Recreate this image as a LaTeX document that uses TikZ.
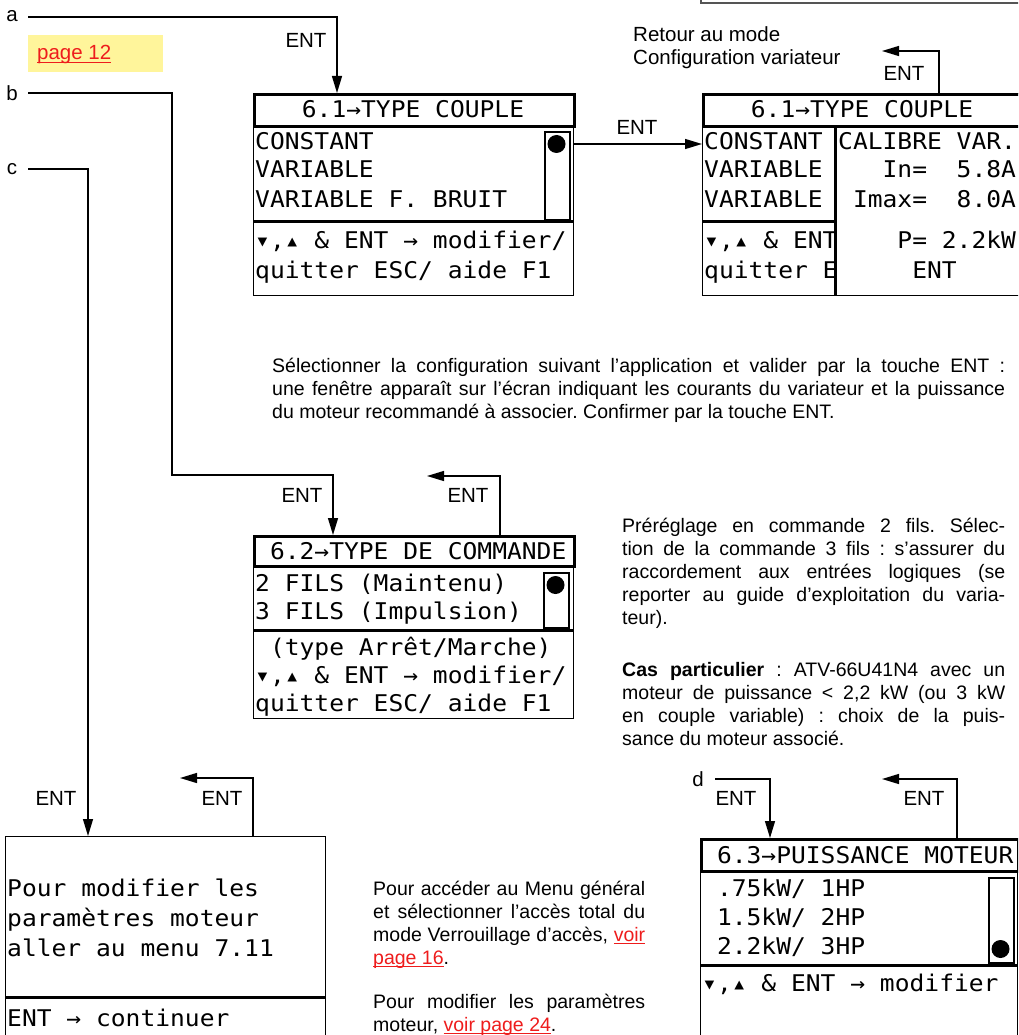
\documentclass[tikz,border=0pt]{standalone}
\usepackage{fontspec}
\usepackage{xcolor}
\setmainfont{Liberation Sans}
\newfontfamily\lcdfont[FakeStretch=1.07]{DejaVu Sans Mono}
\usetikzlibrary{arrows.meta}
\definecolor{notebg}{HTML}{FFF59B}
\definecolor{linkred}{HTML}{EE1C1C}
\definecolor{framegray}{HTML}{555555}
\newcommand{\lnk}[1]{\textcolor{linkred}{\setbox0\hbox{#1}\rlap{\rule[-2.6pt]{\wd0}{0.8pt}}\box0}}
\newcommand{\navkeys}{▾,▴}
\frenchspacing

\begin{document}
\begin{tikzpicture}[x=1pt, y=-1pt, >={Triangle[length=17pt, width=10pt]}]
        % 样式定义
        \tikzstyle{lcdbox} = [draw, rectangle, line width=1.4pt, inner sep=0pt, anchor=north west, minimum width=320pt]
        \tikzstyle{titlebar} = [draw, rectangle, line width=3pt, inner sep=0pt, anchor=north west, minimum width=320pt, minimum height=32pt]
        \tikzstyle{divider} = [line width=3pt]
        \tikzstyle{lcd} = [font=\lcdfont\fontsize{23}{28}\selectfont, inner sep=0pt, anchor=base west]
        \tikzstyle{scroll} = [draw, rectangle, line width=2.2pt, inner sep=0pt, anchor=north west, minimum width=25pt]
        \tikzstyle{bullet} = [circle, fill, inner sep=0pt, minimum size=18pt]
        \tikzstyle{entlbl} = [font=\fontsize{20.5}{23}\selectfont, inner sep=0pt]
        \tikzstyle{para} = [font=\fontsize{19.5}{23}\selectfont, inner sep=0pt, anchor=base west, align=justify]
        \tikzstyle{flow} = [->, line width=1.3pt]

        \clip (0,0) rectangle (1018,1035);
        \draw [framegray, line width=1.2pt] (701,-10) rectangle (1030,3);

        % 6.1 TYPE COUPLE
        \node [lcdbox, minimum height=202pt] (TC1) at (253,93) {};
        \node [titlebar] (TC1t) at (253,93) {};
        \node [lcd, anchor=base] (TC1h) at (413,118) {6.1→TYPE COUPLE};
        \node [lcd] (TC1a) at (255,150) {CONSTANT};
        \node [lcd] (TC1b) at (255,178) {VARIABLE};
        \node [lcd] (TC1c) at (255,207) {VARIABLE F. BRUIT};
        \draw [divider] (TC1.west |- 0,221) -- (TC1.east |- 0,221);
        \node [lcd] (TC1d) at (255,248) {\navkeys{} \& ENT → modifier/};
        \node [lcd] (TC1e) at (255,278) {quitter ESC/ aide F1};
        \node [scroll, minimum height=88pt] (TC1s) at (544,131) {};
        \node [bullet] (TC1o) at (556.5,144) {};

        % 6.1 avec calibre
        \node [lcdbox, minimum height=202pt] (TC2) at (702,93) {};
        \node [titlebar] (TC2t) at (702,93) {};
        \node [lcd, anchor=base] (TC2h) at (862,118) {6.1→TYPE COUPLE};
        \node [lcd] (TC2a) at (704,150) {CONSTANT};
        \node [lcd] (TC2b) at (704,178) {VARIABLE};
        \node [lcd] (TC2c) at (704,207) {VARIABLE};
        \draw [divider] (TC2.west |- 0,221) -- (835,221);
        \node [lcd] (TC2d) at (704,248) {\navkeys{} \& ENT};
        \node [lcd] (TC2e) at (704,278) {quitter E};
        \draw [divider] ([xshift=133pt]TC2t.south west) -- ([xshift=133pt]TC2.south west);
        \node [lcd] (Cal1) at (838,150) {CALIBRE VAR.};
        \node [lcd] (Cal2) at (838,178) {~~~In=~~5.8A};
        \node [lcd] (Cal3) at (838,207) {~Imax=~~8.0A};
        \node [lcd] (Cal4) at (838,248) {~~~~P=~2.2kW};
        \node [lcd] (Cal5) at (838,278) {~~~~~ENT};

        % 6.2 TYPE DE COMMANDE
        \node [lcdbox, minimum height=183pt] (TCmd) at (253,535) {};
        \node [titlebar, minimum height=30pt] (TCmdt) at (253,535) {};
        \node [lcd] (TCmdh) at (255,559) {~6.2→TYPE DE COMMANDE};
        \node [lcd] (TCmda) at (255,591) {2 FILS (Maintenu)};
        \node [lcd] (TCmdb) at (255,619) {3 FILS (Impulsion)};
        \draw [divider] (TCmd.west |- 0,630) -- (TCmd.east |- 0,630);
        \node [lcd] (TCmdc) at (255,655) {~(type Arrêt/Marche)};
        \node [lcd] (TCmdd) at (255,683) {\navkeys{} \& ENT → modifier/};
        \node [lcd] (TCmde) at (255,711) {quitter ESC/ aide F1};
        \node [scroll, minimum height=55pt] (TCmds) at (543,572) {};
        \node [bullet] (TCmdo) at (555.5,585) {};

        % message moteur
        \node [lcdbox, minimum height=210pt] (Msg) at (5,836) {};
        \node [lcd] (Msga) at (7,896) {Pour modifier les};
        \node [lcd] (Msgb) at (7,926) {paramètres moteur};
        \node [lcd] (Msgc) at (7,956) {aller au menu 7.11};
        \draw [divider] (Msg.west |- 0,997) -- (Msg.east |- 0,997);
        \node [lcd] (Msgd) at (7,1026) {ENT → continuer};

        % 6.3 PUISSANCE MOTEUR
        \node [lcdbox, minimum width=317pt, minimum height=210pt] (PM) at (700,838) {};
        \node [titlebar, minimum width=317pt] (PMt) at (700,838) {};
        \node [lcd] (PMh) at (702,863) {~6.3→PUISSANCE MOTEUR};
        \node [lcd] (PMa) at (702,896) {~.75kW/ 1HP};
        \node [lcd] (PMb) at (702,925) {~1.5kW/ 2HP};
        \node [lcd] (PMc) at (702,954) {~2.2kW/ 3HP};
        \draw [divider] (PM.west |- 0,965) -- (PM.east |- 0,965);
        \node [lcd] (PMd) at (702,991) {\navkeys{} \& ENT → modifier};
        \node [scroll, minimum height=85pt] (PMs) at (988,877) {};
        \node [bullet] (PMo) at (1000.5,949) {};

        % 文字
        \node [fill=notebg, inner sep=0pt, anchor=north west, minimum width=135pt, minimum height=37pt] (note) at (28,35) {};
        \node [entlbl, anchor=base west] (p12) at (37,60) {\lnk{page 12}};
        \node [entlbl] (la) at (12,16) {a};
        \node [entlbl] (lb) at (12,93) {b};
        \node [entlbl] (lc) at (12,169) {c};
        \node [entlbl] (ld) at (698,779) {d};
        \node [entlbl, anchor=base west] (ret1) at (633,42) {Retour au mode};
        \node [entlbl, anchor=base west] (ret2) at (633,65) {Configuration variateur};
        \node [para, text width=733pt] (p1) at (272,372) {Sélectionner la configuration suivant l’application et valider par la touche ENT~:\linebreak
          une fenêtre apparaît sur l’écran indiquant les courants du variateur et la puissance\linebreak
          du moteur recommandé à associer. Confirmer par la touche ENT.};
        \node [para, text width=383pt] (p2) at (622,532) {Préréglage en commande 2 fils. Sélec-\linebreak
          tion de la commande 3 fils : s’assurer du\linebreak
          raccordement aux entrées logiques (se\linebreak
          reporter au guide d’exploitation du varia-\linebreak
          teur).\par\vspace{29pt}
          \textbf{Cas particulier} : ATV-66U41N4 avec un\linebreak
          moteur de puissance < 2,2 kW (ou 3 kW\linebreak
          en couple variable) : choix de la puis-\linebreak
          sance du moteur associé.};
        \node [para, text width=272pt] (p3) at (373,895) {Pour accéder au Menu général\linebreak
          et sélectionner l’accès total du\linebreak
          mode Verrouillage d’accès, \lnk{voir}\linebreak
          \lnk{page 16}.\par\vspace{21pt}
          Pour modifier les paramètres\linebreak
          moteur, \lnk{voir page 24}.};

        % 连线
        \coordinate (a0) at (28,17);
        \coordinate (b0) at (28,93);
        \coordinate (bk) at (172,475);
        \coordinate (c0) at (28,169);
        \coordinate (d0) at (715,779);
        \coordinate (r1) at (882,51);
        \coordinate (r2) at (427,476);
        \coordinate (r3) at (180,778);
        \coordinate (r4) at (882,779);
        \draw [flow] (a0) -| ([xshift=84pt]TC1.north west);
        \draw [flow] (b0) -| (bk) -| ([xshift=80pt]TCmd.north west);
        \draw [flow] (c0) -| ([xshift=83pt]Msg.north west);
        \draw [flow] (d0) -| ([xshift=70pt]PM.north west);
        \draw [flow] (TC1.east |- TC1o) -- (TC2.west |- TC1o);
        \draw [flow] ([xshift=237pt]TC2.north west) |- (r1);
        \draw [flow] ([xshift=247pt]TCmd.north west) |- (r2);
        \draw [flow] ([xshift=248pt]Msg.north west) |- (r3);
        \draw [flow] ([xshift=257pt]PM.north west) |- (r4);
        \node [entlbl] (e1) at (306,40) {ENT};
        \node [entlbl] (e2) at (637,127) {ENT};
        \node [entlbl] (e3) at (904,73) {ENT};
        \node [entlbl] (e4) at (302,495) {ENT};
        \node [entlbl] (e5) at (468,495) {ENT};
        \node [entlbl] (e6) at (56,798) {ENT};
        \node [entlbl] (e7) at (222,798) {ENT};
        \node [entlbl] (e8) at (736,798) {ENT};
        \node [entlbl] (e9) at (924,798) {ENT};
\end{tikzpicture}
\end{document}
